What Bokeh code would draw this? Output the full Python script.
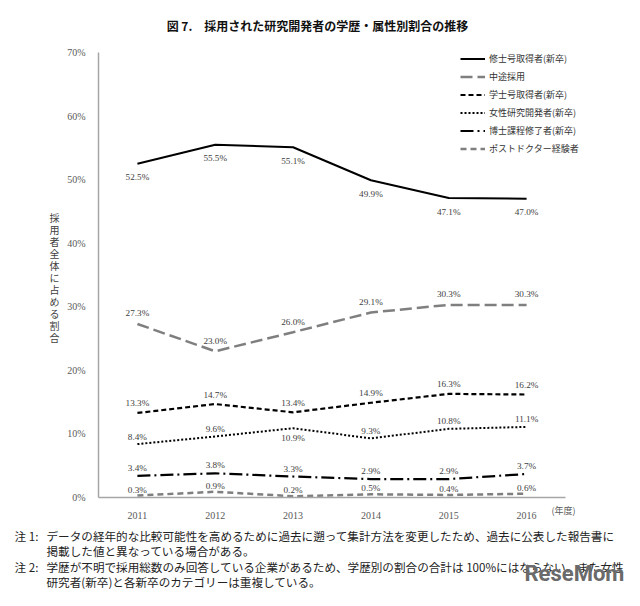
from bokeh.plotting import figure
from bokeh.models import (Legend, LegendItem, Label, FixedTicker,
                          PrintfTickFormatter, ColumnDataSource, Range1d)
from bokeh.core.properties import value
from bokeh.embed import file_html
from bokeh.resources import INLINE

# ---------------- data ----------------
years = [2011, 2012, 2013, 2014, 2015, 2016]
master = [52.5, 55.5, 55.1, 49.9, 47.1, 47.0]
midcareer = [27.3, 23.0, 26.0, 29.1, 30.3, 30.3]
bachelor = [13.3, 14.7, 13.4, 14.9, 16.3, 16.2]
female = [8.4, 9.6, 10.9, 9.3, 10.8, 11.1]
doctor = [3.4, 3.8, 3.3, 2.9, 2.9, 3.7]
postdoc = [0.3, 0.9, 0.2, 0.5, 0.4, 0.6]
series_names = ["修士号取得者(新卒)", "中途採用", "学士号取得者(新卒)",
                "女性研究開発者(新卒)", "博士課程修了者(新卒)", "ポストドクター経験者"]
y_ticks = [0, 10, 20, 30, 40, 50, 60, 70]
title_text = "図 7.　採用された研究開発者の学歴・属性別割合の推移"
y_title = "採用者全体に占める割合"
x_unit = "(年度)"
note_heads = ["注 1:", "", "注 2:", ""]
note_lines = [
    "データの経年的な比較可能性を高めるために過去に遡って集計方法を変更したため、過去に公表した報告書に",
    "掲載した値と異なっている場合がある。",
    "学歴が不明で採用総数のみ回答している企業があるため、学歴別の割合の合計は 100%にはならない。また女性",
    "研究者(新卒)と各新卒のカテゴリーは重複している。",
]

# ---------------- layout geometry (canvas pixels) ----------------
W, H = 624, 590
AX_LEFT, AX_RIGHT = 98, 565      # where the axes' extent lies on the canvas
AX_TOP, AX_BOTTOM = 52, 497
X0, X1 = 2010.5, 2016.5
Y0, Y1 = 0, 70
ppx = (AX_RIGHT - AX_LEFT) / (X1 - X0)
ppy = (AX_BOTTOM - AX_TOP) / (Y1 - Y0)
x_range = Range1d(X0 - AX_LEFT / ppx, X1 + (W - AX_RIGHT) / ppx)
y_range = Range1d(Y0 - (H - AX_BOTTOM) / ppy, Y1 + AX_TOP / ppy)

p = figure(width=W, height=H, output_backend="svg", toolbar_location=None,
           x_range=x_range, y_range=y_range,
           min_border_left=0, min_border_right=0,
           min_border_top=0, min_border_bottom=0)
p.outline_line_color = None
p.xgrid.visible = False
p.ygrid.visible = False
p.background_fill_color = "white"
p.border_fill_color = "white"

for ax in (p.xaxis[0], p.yaxis[0]):
    ax.axis_line_color = "#a6a6a6"
    ax.axis_line_width = 1.5
    ax.major_tick_line_color = None
    ax.minor_tick_line_color = None
    ax.major_label_text_font = "Liberation Serif"
    ax.major_label_text_font_size = "10px"
    ax.major_label_text_color = "#595959"

p.xaxis.fixed_location = Y0
p.xaxis.bounds = (X0, X1)
p.xaxis.ticker = FixedTicker(ticks=years)
p.xaxis.major_label_standoff = 8
p.yaxis.fixed_location = X0
p.yaxis.bounds = (Y0, Y1)
p.yaxis.ticker = FixedTicker(ticks=y_ticks)
p.yaxis.formatter = PrintfTickFormatter(format="%d%%")
p.yaxis.major_label_standoff = 7

series = [master, midcareer, bachelor, female, doctor, postdoc]
styles = [
    dict(line_color="black", line_width=2.0, line_dash="solid"),
    dict(line_color="#7f7f7f", line_width=2.5, line_dash="12 5"),
    dict(line_color="black", line_width=2.2, line_dash="5 3"),
    dict(line_color="black", line_width=2.0, line_dash="2 2"),
    dict(line_color="black", line_width=2.2, line_dash="13 4 2 4"),
    dict(line_color="#7f7f7f", line_width=2.5, line_dash="6 4"),
]
label_offsets = [
    [13.5] * 6,
    [-10.5] * 6,
    [-9.5] * 6,
    [-7.5, -7.5, 10, -7.5, -7.5, -7.5],
    [-8] * 6,
    [-6] * 6,
]

renderers = []
for vals, st, offs in zip(series, styles, label_offsets):
    r = p.line(years, vals, **st)
    renderers.append(r)
    src = ColumnDataSource(dict(x=years, y=vals,
                                t=["%.1f%%" % v for v in vals], off=offs))
    p.text(x="x", y="y", text="t", y_offset="off", source=src,
           text_align="center", text_baseline="middle",
           text_font=value("Liberation Serif"), text_font_size="9.2px",
           text_color="#404040")

legend = Legend(items=[LegendItem(label=n, renderers=[r])
                       for n, r in zip(series_names, renderers)],
                location=(460, 435), glyph_width=25, glyph_height=13,
                label_height=13, spacing=5, padding=0, margin=0,
                label_standoff=4, border_line_color=None,
                background_fill_alpha=0,
                label_text_font="Noto Sans CJK JP",
                label_text_font_size="9px", label_text_color="#333333")
p.add_layout(legend)


def add_label(px, py, text, size, align="left", color="#222222",
              style="normal", font="Noto Sans CJK JP", lh=1.2):
    p.add_layout(Label(x=px, y=py, x_units="canvas", y_units="canvas",
                       text=text, text_align=align, text_baseline="middle",
                       text_font=font, text_font_size=size,
                       text_font_style=style, text_color=color,
                       text_line_height=lh))


add_label(317, 25, title_text, "12px", align="center", color="#111111",
          style="bold")
add_label(54, 277, "\n".join(y_title), "10px", align="center",
          color="#404040", lh=0.8)
add_label(551, 510, x_unit, "9px", color="#595959")

note_y = [535, 550, 566, 581]
for head, line, yy in zip(note_heads, note_lines, note_y):
    if head:
        add_label(14, yy, head, "11.6px")
    add_label(46, yy, line, "11.6px")

add_label(524, 573, "ReseMom", "22px", color="#6a6a6a", style="bold",
          font="Roboto")

open("out.html", "w").write(file_html(p, INLINE))
